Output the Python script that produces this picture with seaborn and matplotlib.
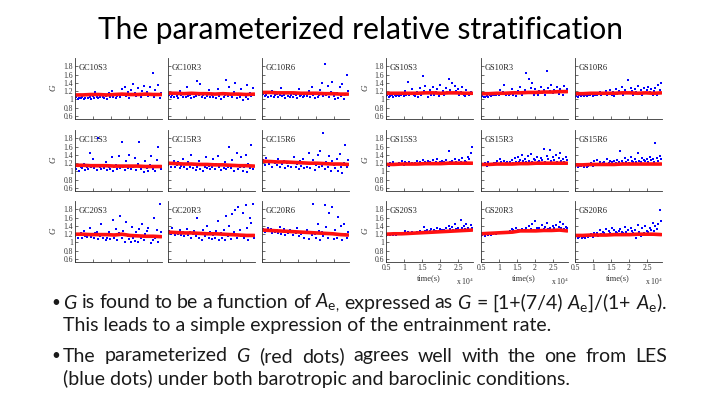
import numpy as np
import matplotlib
matplotlib.use("Agg")
import matplotlib.pyplot as plt
import seaborn as sns

# ---- data ----
t_start, t_end = 5000, 29000

gc_names = ["GC10S3", "GC10R3", "GC10R6",
            "GC15S3", "GC15R3", "GC15R6",
            "GC20S3", "GC20R3", "GC20R6"]
gs_names = ["GS10S3", "GS10R3", "GS10R6",
            "GS15S3", "GS15R3", "GS15R6",
            "GS20S3", "GS20R3", "GS20R6"]

# LES G (blue dots)
gc_les = {
    "GC10S3": [1.02, 1.05, 1.00, 1.04, 1.03, 1.07, 1.01, 1.04, 1.10, 1.03,
               1.05, 1.02, 1.08, 1.04, 1.18, 1.06, 1.03, 1.07, 1.12, 1.05,
               1.04, 1.09, 1.02, 1.15, 1.07, 1.21, 1.05, 1.10, 1.03, 1.08,
               1.12, 1.06, 1.25, 1.10, 1.30, 1.08, 1.17, 1.04, 1.22, 1.11,
               1.38, 1.15, 1.08, 1.27, 1.12, 1.05, 1.20, 1.32, 1.10, 1.18,
               1.09, 1.30, 1.14, 1.63, 1.06, 1.22, 1.12, 1.35, 1.03, 1.15],
    "GC10R3": [1.08, 1.12, 1.05, 1.10, 1.06, 1.14, 1.09, 1.04, 1.20, 1.10,
               1.07, 1.13, 1.05, 1.30, 1.08, 1.11, 1.04, 1.16, 1.07, 1.09,
               1.45, 1.10, 1.38, 1.06, 1.12, 1.03, 1.15, 1.08, 1.22, 1.05,
               1.10, 1.07, 1.13, 1.04, 1.25, 1.09, 1.02, 1.14, 1.06, 1.11,
               1.48, 1.08, 1.30, 1.12, 1.05, 1.18, 1.40, 1.03, 1.10, 1.07,
               1.25, 0.98, 1.12, 1.06, 1.35, 1.02, 1.15, 1.08, 1.28, 1.10],
    "GC10R6": [1.10, 1.14, 1.08, 1.12, 1.06, 1.15, 1.09, 1.20, 1.07, 1.11,
               1.13, 1.05, 1.10, 1.28, 1.08, 1.12, 1.04, 1.16, 1.09, 1.07,
               1.11, 1.06, 1.14, 1.10, 1.03, 1.25, 1.08, 1.12, 1.05, 1.09,
               1.13, 1.08, 1.20, 1.06, 1.30, 1.11, 1.04, 1.15, 1.07, 1.10,
               1.22, 1.40, 1.09, 1.85, 1.12, 1.33, 1.05, 1.18, 1.43, 1.08,
               1.00, 1.15, 1.04, 1.30, 1.09, 1.38, 1.02, 1.12, 1.60, 1.20],
    "GC15S3": [1.10, 1.05, 1.14, 1.02, 1.12, 1.08, 1.18, 1.04, 1.10, 1.06,
               1.45, 1.12, 1.30, 1.08, 1.15, 1.03, 1.80, 1.10, 1.06, 1.14,
               1.09, 1.22, 1.04, 1.12, 1.07, 1.35, 1.02, 1.10, 1.15, 1.05,
               1.38, 1.08, 1.72, 1.12, 1.03, 1.25, 1.09, 1.40, 1.06, 1.14,
               1.11, 1.32, 1.04, 1.18, 1.70, 1.07, 1.12, 0.98, 1.25, 1.09,
               1.02, 1.15, 1.38, 1.06, 1.10, 1.00, 1.28, 1.58, 1.12, 1.05],
    "GC15R3": [1.15, 1.20, 1.12, 1.18, 1.25, 1.10, 1.16, 1.22, 1.08, 1.14,
               1.30, 1.10, 1.18, 1.06, 1.22, 1.12, 1.40, 1.08, 1.15, 1.03,
               1.10, 1.25, 1.06, 1.16, 1.02, 1.12, 1.35, 1.08, 1.14, 1.05,
               1.12, 1.30, 1.06, 1.18, 1.38, 1.10, 1.03, 1.15, 1.08, 1.22,
               1.05, 1.12, 1.60, 1.08, 1.28, 1.00, 1.15, 1.45, 1.06, 1.10,
               1.35, 1.02, 1.12, 1.40, 0.98, 1.18, 1.08, 1.63, 1.05, 1.14],
    "GC15R6": [1.20, 1.28, 1.15, 1.32, 1.22, 1.18, 1.26, 1.12, 1.24, 1.20,
               1.16, 1.30, 1.10, 1.22, 1.18, 1.26, 1.08, 1.20, 1.14, 1.24,
               1.12, 1.22, 1.35, 1.10, 1.18, 1.06, 1.25, 1.14, 1.30, 1.09,
               1.20, 1.12, 1.45, 1.08, 1.18, 1.28, 1.04, 1.15, 1.40, 1.10,
               1.50, 1.13, 1.93, 1.06, 1.22, 1.10, 1.38, 1.02, 1.25, 1.15,
               1.08, 1.30, 1.00, 1.42, 1.12, 0.96, 1.20, 1.65, 1.10, 1.28],
    "GC20S3": [1.15, 1.20, 1.12, 1.18, 1.22, 1.10, 1.28, 1.16, 1.13, 1.20,
               1.35, 1.14, 1.18, 1.10, 1.22, 1.26, 1.08, 1.15, 1.45, 1.12,
               1.20, 1.06, 1.10, 1.25, 1.08, 1.18, 1.55, 1.12, 1.32, 1.05,
               1.22, 1.65, 1.10, 1.28, 1.02, 1.50, 1.15, 1.08, 1.00, 1.38,
               1.12, 1.03, 1.25, 1.00, 1.32, 1.10, 1.45, 1.06, 1.20, 1.28,
               1.35, 1.15, 0.98, 1.05, 1.58, 1.12, 1.30, 1.02, 1.93, 1.25],
    "GC20R3": [1.22, 1.28, 1.20, 1.35, 1.24, 1.18, 1.26, 1.21, 1.30, 1.19,
               1.25, 1.15, 1.22, 1.32, 1.18, 1.26, 1.10, 1.20, 1.28, 1.16,
               1.60, 1.12, 1.22, 1.05, 1.30, 1.15, 1.20, 1.40, 1.10, 1.25,
               1.08, 1.18, 1.12, 1.28, 1.52, 1.06, 1.22, 1.10, 1.30, 1.05,
               1.65, 1.15, 1.40, 1.08, 1.68, 1.25, 1.78, 1.12, 1.85, 1.30,
               1.15, 1.72, 1.10, 1.90, 1.35, 1.05, 1.60, 1.48, 1.93, 1.12],
    "GC20R6": [1.28, 1.33, 1.25, 1.30, 1.35, 1.27, 1.32, 1.22, 1.29, 1.26,
               1.30, 1.24, 1.38, 1.20, 1.28, 1.32, 1.18, 1.26, 1.22, 1.30,
               1.25, 1.18, 1.28, 1.22, 1.35, 1.15, 1.26, 1.20, 1.24, 1.12,
               1.22, 1.30, 1.08, 1.25, 1.18, 1.93, 1.20, 1.10, 1.45, 1.28,
               1.05, 1.25, 1.15, 1.90, 1.38, 1.12, 1.70, 1.22, 1.85, 1.08,
               1.30, 1.10, 1.62, 1.18, 1.40, 1.05, 1.45, 1.20, 1.12, 1.25],
}

gs_les = {
    "GS10S3": [1.08, 1.10, 1.06, 1.09, 1.11, 1.07, 1.10, 1.08, 1.12, 1.09,
               1.10, 1.14, 1.08, 1.20, 1.12, 1.42, 1.10, 1.15, 1.25, 1.12,
               1.09, 1.18, 1.06, 1.28, 1.12, 1.57, 1.20, 1.33, 1.15, 1.05,
               1.22, 1.12, 1.30, 1.10, 1.18, 1.25, 1.08, 1.35, 1.15, 1.20,
               1.12, 1.28, 1.18, 1.50, 1.22, 1.40, 1.15, 1.32, 1.20, 1.25,
               1.10, 1.18, 1.30, 1.12, 1.08, 1.22, 1.15, 1.12, 1.18, 1.14],
    "GS10R3": [1.06, 1.08, 1.05, 1.07, 1.09, 1.06, 1.10, 1.08, 1.12, 1.10,
               1.12, 1.15, 1.10, 1.22, 1.13, 1.18, 1.35, 1.12, 1.16, 1.10,
               1.14, 1.25, 1.12, 1.18, 1.09, 1.20, 1.15, 1.30, 1.12, 1.17,
               1.22, 1.65, 1.15, 1.50, 1.28, 1.40, 1.12, 1.25, 1.18, 1.10,
               1.20, 1.30, 1.16, 1.24, 1.12, 1.68, 1.28, 1.20, 1.35, 1.15,
               1.22, 1.18, 1.30, 1.14, 1.25, 1.20, 1.12, 1.32, 1.18, 1.26],
    "GS10R6": [1.06, 1.09, 1.07, 1.10, 1.08, 1.11, 1.09, 1.12, 1.08, 1.10,
               1.11, 1.13, 1.09, 1.15, 1.10, 1.12, 1.14, 1.18, 1.11, 1.16,
               1.13, 1.20, 1.10, 1.15, 1.22, 1.12, 1.18, 1.08, 1.25, 1.14,
               1.20, 1.16, 1.30, 1.12, 1.22, 1.18, 1.48, 1.15, 1.28, 1.20,
               1.12, 1.25, 1.18, 1.32, 1.14, 1.22, 1.10, 1.28, 1.16, 1.24,
               1.30, 1.18, 1.25, 1.12, 1.20, 1.28, 1.10, 1.35, 1.22, 1.40],
    "GS15S3": [1.15, 1.18, 1.14, 1.20, 1.16, 1.22, 1.15, 1.19, 1.17, 1.21,
               1.18, 1.25, 1.16, 1.22, 1.20, 1.18, 1.24, 1.17, 1.21, 1.19,
               1.20, 1.26, 1.18, 1.23, 1.17, 1.28, 1.20, 1.22, 1.18, 1.25,
               1.22, 1.19, 1.27, 1.20, 1.24, 1.30, 1.18, 1.22, 1.26, 1.20,
               1.24, 1.28, 1.20, 1.50, 1.22, 1.26, 1.18, 1.30, 1.24, 1.21,
               1.28, 1.22, 1.32, 1.20, 1.26, 1.24, 1.35, 1.30, 1.45, 1.60],
    "GS15R3": [1.15, 1.18, 1.16, 1.20, 1.14, 1.22, 1.17, 1.19, 1.16, 1.21,
               1.20, 1.25, 1.18, 1.30, 1.22, 1.19, 1.26, 1.20, 1.24, 1.18,
               1.22, 1.28, 1.20, 1.32, 1.24, 1.35, 1.22, 1.28, 1.40, 1.25,
               1.30, 1.22, 1.38, 1.26, 1.42, 1.24, 1.30, 1.28, 1.35, 1.22,
               1.26, 1.32, 1.28, 1.55, 1.24, 1.38, 1.30, 1.52, 1.26, 1.34,
               1.28, 1.40, 1.24, 1.32, 1.45, 1.26, 1.30, 1.22, 1.36, 1.28],
    "GS15R6": [1.12, 1.15, 1.10, 1.14, 1.13, 1.16, 1.11, 1.15, 1.12, 1.14,
               1.16, 1.20, 1.14, 1.25, 1.15, 1.28, 1.18, 1.22, 1.16, 1.20,
               1.24, 1.18, 1.30, 1.20, 1.26, 1.22, 1.18, 1.25, 1.20, 1.28,
               1.22, 1.50, 1.25, 1.20, 1.32, 1.24, 1.28, 1.20, 1.35, 1.26,
               1.22, 1.30, 1.24, 1.45, 1.26, 1.22, 1.32, 1.28, 1.25, 1.30,
               1.24, 1.34, 1.28, 1.30, 1.24, 1.68, 1.32, 1.26, 1.38, 1.30],
    "GS20S3": [1.15, 1.18, 1.20, 1.17, 1.21, 1.19, 1.22, 1.18, 1.20, 1.23,
               1.20, 1.24, 1.21, 1.28, 1.22, 1.25, 1.23, 1.21, 1.26, 1.24,
               1.22, 1.26, 1.24, 1.28, 1.25, 1.23, 1.38, 1.27, 1.30, 1.25,
               1.28, 1.32, 1.26, 1.30, 1.28, 1.35, 1.27, 1.32, 1.29, 1.25,
               1.30, 1.34, 1.28, 1.40, 1.32, 1.38, 1.29, 1.45, 1.33, 1.36,
               1.30, 1.55, 1.34, 1.40, 1.32, 1.45, 1.36, 1.30, 1.42, 1.35],
    "GS20R3": [1.15, 1.18, 1.20, 1.16, 1.21, 1.19, 1.22, 1.18, 1.21, 1.23,
               1.20, 1.24, 1.22, 1.26, 1.23, 1.25, 1.22, 1.26, 1.24, 1.25,
               1.28, 1.32, 1.30, 1.27, 1.35, 1.29, 1.31, 1.28, 1.33, 1.30,
               1.30, 1.34, 1.28, 1.40, 1.32, 1.45, 1.30, 1.52, 1.35, 1.32,
               1.36, 1.30, 1.42, 1.33, 1.38, 1.48, 1.32, 1.36, 1.30, 1.40,
               1.34, 1.42, 1.30, 1.38, 1.50, 1.35, 1.44, 1.32, 1.38, 1.34],
    "GS20R6": [1.12, 1.15, 1.10, 1.13, 1.16, 1.12, 1.14, 1.11, 1.15, 1.13,
               1.16, 1.20, 1.14, 1.22, 1.18, 1.24, 1.16, 1.30, 1.20, 1.26,
               1.22, 1.32, 1.18, 1.28, 1.24, 1.35, 1.20, 1.30, 1.26, 1.22,
               1.28, 1.32, 1.25, 1.22, 1.38, 1.26, 1.30, 1.20, 1.35, 1.28,
               1.24, 1.30, 1.12, 1.42, 1.26, 1.15, 1.34, 1.22, 1.40, 1.28,
               1.25, 1.35, 1.30, 1.48, 1.28, 1.40, 1.32, 1.45, 1.78, 1.52],
}

# parameterized G (red dots)
gc_param = {
    "GC10S3": [1.11, 1.11, 1.12, 1.12, 1.11, 1.12, 1.13, 1.12, 1.12, 1.13, 1.12, 1.12],
    "GC10R3": [1.15, 1.15, 1.14, 1.15, 1.14, 1.14, 1.13, 1.14, 1.13, 1.13, 1.12, 1.13],
    "GC10R6": [1.17, 1.17, 1.16, 1.16, 1.16, 1.15, 1.15, 1.15, 1.14, 1.14, 1.13, 1.13],
    "GC15S3": [1.15, 1.15, 1.14, 1.14, 1.14, 1.13, 1.13, 1.13, 1.13, 1.12, 1.12, 1.12],
    "GC15R3": [1.20, 1.19, 1.18, 1.18, 1.17, 1.17, 1.16, 1.16, 1.15, 1.14, 1.14, 1.13],
    "GC15R6": [1.25, 1.24, 1.23, 1.23, 1.22, 1.21, 1.20, 1.20, 1.19, 1.18, 1.18, 1.17],
    "GC20S3": [1.20, 1.20, 1.19, 1.19, 1.19, 1.18, 1.20, 1.17, 1.16, 1.15, 1.15, 1.14],
    "GC20R3": [1.25, 1.24, 1.23, 1.23, 1.22, 1.21, 1.21, 1.20, 1.19, 1.18, 1.17, 1.17],
    "GC20R6": [1.30, 1.29, 1.28, 1.27, 1.26, 1.25, 1.24, 1.23, 1.22, 1.21, 1.19, 1.18],
}
gs_param = {
    "GS10S3": [1.15, 1.15, 1.15, 1.15, 1.15, 1.16, 1.16, 1.15, 1.16, 1.16, 1.15, 1.15],
    "GS10R3": [1.14, 1.14, 1.15, 1.15, 1.16, 1.16, 1.17, 1.17, 1.18, 1.18, 1.19, 1.19],
    "GS10R6": [1.14, 1.14, 1.15, 1.15, 1.15, 1.15, 1.16, 1.16, 1.15, 1.16, 1.15, 1.16],
    "GS15S3": [1.17, 1.17, 1.18, 1.18, 1.18, 1.19, 1.19, 1.19, 1.20, 1.20, 1.20, 1.20],
    "GS15R3": [1.17, 1.17, 1.18, 1.18, 1.18, 1.19, 1.19, 1.20, 1.20, 1.20, 1.20, 1.20],
    "GS15R6": [1.16, 1.16, 1.17, 1.17, 1.17, 1.17, 1.18, 1.18, 1.18, 1.18, 1.18, 1.18],
    "GS20S3": [1.20, 1.21, 1.21, 1.22, 1.23, 1.24, 1.25, 1.26, 1.27, 1.28, 1.29, 1.30],
    "GS20R3": [1.21, 1.22, 1.23, 1.24, 1.25, 1.28, 1.28, 1.28, 1.29, 1.29, 1.30, 1.28],
    "GS20R6": [1.17, 1.17, 1.18, 1.18, 1.18, 1.19, 1.19, 1.19, 1.20, 1.20, 1.20, 1.19],
}

y_ticks = [0.6, 0.8, 1.0, 1.2, 1.4, 1.6, 1.8]
y_labels = ["0.6", "0.8", "1", "1.2", "1.4", "1.6", "1.8"]
x_ticks = [5000, 10000, 15000, 20000, 25000]
x_labels = ["0.5", "1", "1.5", "2", "2.5"]

title = "The parameterized relative stratification"

# ---- figure ----
sns.set_theme(style="white")
plt.rcParams["font.family"] = ["Lato", "DejaVu Sans"]
plt.rcParams["mathtext.fontset"] = "custom"
plt.rcParams["mathtext.rm"] = "Lato"
plt.rcParams["mathtext.it"] = "Lato:italic"

W, H = 720, 404
fig = plt.figure(figsize=(7.2, 4.04), dpi=100)
fig.patch.set_facecolor("white")
SERIF = "Liberation Serif"


def px_axes(left, top, w=87, h=61):
    return fig.add_axes([left / W, 1 - (top + h) / H, w / W, h / H])


def draw_grid(names, les, param, col_lefts, glabel_x, xlabels_on_bottom):
    row_tops = [58, 130, 201]
    for i, name in enumerate(names):
        r, c = divmod(i, 3)
        ax = px_axes(col_lefts[c], row_tops[r])
        t_les = np.linspace(t_start, t_end, len(les[name]))
        t_par = np.linspace(t_start, t_end, len(param[name]))
        sns.scatterplot(x=t_les, y=les[name], ax=ax, color="#0000ff", marker="s",
                        s=3.5, linewidth=0, legend=False)
        sns.lineplot(x=t_par, y=param[name], ax=ax, color="#ff1010", lw=2.6)
        ax.set_xlim(5000, 29200)
        ax.set_ylim(0.53, 2.0)
        ax.set_facecolor("white")
        for s in ["top", "right"]:
            ax.spines[s].set_visible(False)
        for s in ["left", "bottom"]:
            ax.spines[s].set_color("#333333")
            ax.spines[s].set_linewidth(0.6)
        ax.set_yticks(y_ticks)
        ax.set_xticks(x_ticks)
        if c == 0:
            ax.set_yticklabels(y_labels, fontfamily=SERIF, fontsize=5.5, color="#333333")
            fig.text(glabel_x / W, 1 - (row_tops[r] + 30) / H, "G", rotation=90,
                     ha="center", va="center", family=SERIF, style="italic",
                     fontsize=6.5, color="#333333")
        else:
            ax.set_yticklabels([])
        if xlabels_on_bottom and r == 2:
            ax.set_xticklabels(x_labels, fontfamily=SERIF, fontsize=5.5, color="#333333")
            cx = col_lefts[c] + 43
            fig.text(cx / W, 1 - 278 / H, "time(s)", ha="center", va="center",
                     family=SERIF, fontsize=6, color="#333333")
            fig.text((col_lefts[c] + 79) / W, 1 - 281 / H, r"x 10$^{4}$", ha="center",
                     va="center", family=SERIF, math_fontfamily="stix",
                     fontsize=5.5, color="#333333")
        else:
            ax.set_xticklabels([])
        ax.tick_params(direction="in", length=2, width=0.5, pad=1.5,
                       bottom=True, left=True, colors="#333333")
        ax.set_xlabel("")
        ax.set_ylabel("")
        ax.text(0.045, 0.84, name, transform=ax.transAxes, family=SERIF,
                fontsize=6, color="#222222", va="center")


draw_grid(gc_names, gc_les, gc_param, [75, 168, 262], 53, False)
draw_grid(gs_names, gs_les, gs_param, [386, 481, 575], 365, True)

# slide title
fig.text(0.5, 1 - 30 / H, title, ha="center", va="center", fontsize=21.5,
         fontweight="normal", color="black")

# bullets
bsize = 14
txt_left, txt_right = 63, 667
renderer = fig.canvas.get_renderer()


def justified(y, txt):
    words = txt.split(" ")
    items = [fig.text(0, 1 - y / H, w, ha="left", va="center", fontsize=bsize,
                      color="#1a1a1a") for w in words]
    widths = [t.get_window_extent(renderer).width for t in items]
    gap = (txt_right - txt_left - sum(widths)) / (len(words) - 1)
    x = txt_left
    for t, w in zip(items, widths):
        t.set_x(x / W)
        x += w + gap


lines = [
    (303, True, True, r"$G$ is found to be a function of $A_{\mathrm{e},}$ expressed as "
                      r"$G$ = [1+(7/4) $A_{\mathrm{e}}$]/(1+ $A_{\mathrm{e}}$)."),
    (326, False, False, "This leads to a simple expression of the entrainment rate."),
    (356, True, True, r"The parameterized $G$ (red dots) agrees well with the one from LES"),
    (379, False, False, "(blue dots) under both barotropic and baroclinic conditions."),
]
for y, bullet, just, txt in lines:
    if bullet:
        fig.text(51 / W, 1 - y / H, "\u2022", ha="left", va="center",
                 fontsize=bsize - 3, color="#1a1a1a")
    if just:
        justified(y, txt)
    else:
        fig.text(txt_left / W, 1 - y / H, txt, ha="left", va="center", fontsize=bsize,
                 color="#1a1a1a")

fig.savefig("out.png", dpi=100, facecolor="white")
